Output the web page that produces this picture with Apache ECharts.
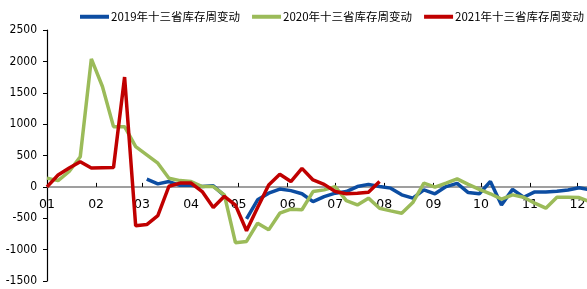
<!DOCTYPE html>
<html>
<head>
<meta charset="utf-8">
<script src="https://cdn.jsdelivr.net/npm/echarts@6/dist/echarts.min.js"></script>
<style>
  html, body { margin: 0; padding: 0; background: #fff; }
  #chart { width: 587px; height: 289px; }
</style>
</head>
<body>
<div id="chart"></div>
<script>
// x axis is day of year (2020 calendar), ticks on month starts
const monthStarts = [0, 31, 60, 91, 121, 152, 182, 213, 244, 274, 305, 335]
const monthLabels = ['01', '02', '03', '04', '05', '06', '07', '08', '09', '10', '11', '12']

const seriesNames = ['2019年十三省库存周变动', '2020年十三省库存周变动', '2021年十三省库存周变动']

// weekly readings, first reading on the given day
const start2019 = 63
const values2019 = [122, 48, 85, 25, 25, 5, 16, -140, null, -510,
  -207, -100, -35, -60, -110, -234, -155, -100, -75, 5,
  40, 5, -20, -127, -180, -48, -110, 5, 55, -90,
  -110, 85, -287, -40, -165, -80, -80, -70, -50, -15, -45]

const start2020 = 0
const values2020 = [140, 100, 245, 480, 2040, 1600, 960, 960, 640, 510,
  377, 138, 100, 85, 5, 5, -127, -890, -870, -578,
  -685, -420, -355, -365, -75, -48, 5, -218, -287, -180,
  -340, -382, -420, -250, 60, -5, 60, 127, 40, -40,
  -110, -195, -127, -165, -260, -340, -165, -165, -170, -240]

const start2021 = 0
const values2021 = [0, 190, 300, 400, 300, 305, 310, 1750, -620, -600,
  -460, 10, 60, 60, -75, -330, -150, -290, -700, -330,
  30, 200, 85, 295, 110, 40, -75, -110, -100, -85, 85]

const colors = ['#0C4DA2', '#9BBB59', '#C00000']

const yMin = -1500
const yMax = 2500

function weekly(start, vals) {
  return vals.map((v, i) => [start + i * 7, v])
}

const chart = echarts.init(document.getElementById('chart'))

const lineSeries = [
  weekly(start2019, values2019),
  weekly(start2020, values2020),
  weekly(start2021, values2021)
].map((data, i) => ({
  name: seriesNames[i],
  type: 'line',
  data: data,
  showSymbol: false,
  connectNulls: false,
  z: 3 + i,
  itemStyle: { color: colors[i] },
  lineStyle: { color: colors[i], width: 3.5 }
}))

// grid box
const gridTop = 30
const gridBottom = 8
const plotHeight = 289 - gridTop - gridBottom
// lift the month axis from the grid bottom up to the zero line
const zeroOffset = -plotHeight * (0 - yMin) / (yMax - yMin)

chart.setOption({
  animation: false,
  legend: {
    data: seriesNames,
    left: 75,
    top: 6,
    width: 520,
    icon: 'rect',
    itemWidth: 29,
    itemHeight: 4,
    itemGap: 12,
    textStyle: {
      fontFamily: 'Noto Sans CJK SC',
      fontSize: 11.5,
      color: '#000',
      padding: [0, 0, 0, -3]
    }
  },
  grid: {
    left: 47,
    right: 0,
    top: gridTop,
    bottom: gridBottom,
    outerBoundsMode: 'none',
    containLabel: false
  },
  xAxis: {
    type: 'value',
    min: 0,
    max: 341,
    position: 'bottom',
    offset: zeroOffset,
    splitLine: { show: false },
    axisLine: { onZero: false, lineStyle: { color: '#808080', width: 1.5 } },
    axisTick: {
      show: true,
      inside: true,
      length: 4,
      customValues: monthStarts,
      lineStyle: { color: '#000' }
    },
    axisLabel: {
      customValues: monthStarts,
      margin: 11,
      fontFamily: 'DejaVu Sans',
      fontSize: 12.5,
      color: '#000',
      formatter: function(val) {
        return monthLabels[monthStarts.indexOf(val)]
      }
    }
  },
  yAxis: {
    type: 'value',
    min: yMin,
    max: yMax,
    interval: 500,
    splitLine: { show: false },
    axisLine: { show: true, onZero: false, lineStyle: { color: '#000', width: 1.2 } },
    axisTick: { show: true, length: 4, lineStyle: { color: '#000' } },
    axisLabel: {
      margin: 10,
      fontFamily: 'DejaVu Sans Condensed, DejaVu Sans',
      fontSize: 12,
      color: '#000',
      formatter: function(val) {
        return String(val)
      }
    }
  },
  series: lineSeries
})
</script>
</body>
</html>
